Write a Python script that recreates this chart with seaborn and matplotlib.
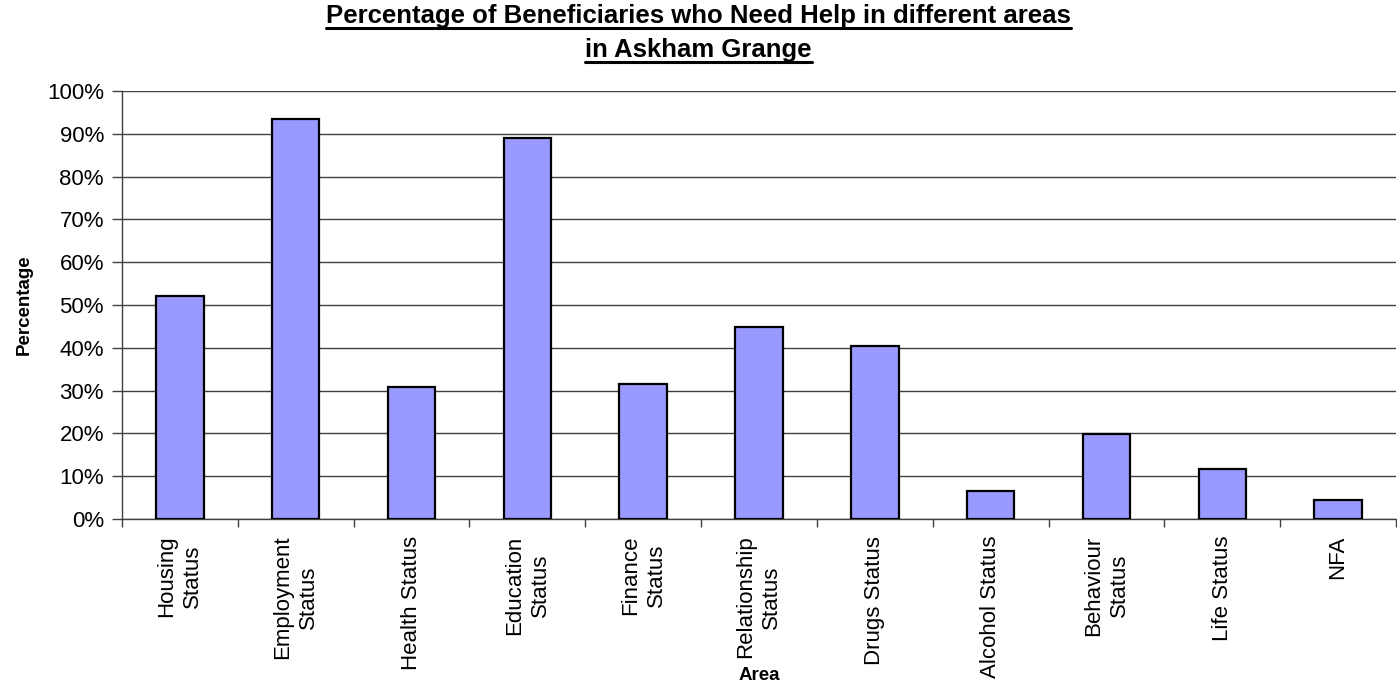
import matplotlib
matplotlib.use("Agg")
import matplotlib.pyplot as plt
import seaborn as sns
import pandas as pd
from matplotlib.ticker import FixedLocator, PercentFormatter
from matplotlib import font_manager

categories = ["Housing\nStatus", "Employment\nStatus", "Health Status", "Education\nStatus",
              "Finance\nStatus", "Relationship\nStatus", "Drugs Status", "Alcohol Status",
              "Behaviour\nStatus", "Life Status", "NFA"]
values = [52.1, 93.4, 30.8, 89.0, 31.5, 44.9, 40.4, 6.6, 19.9, 11.7, 4.4]

title_lines = ["Percentage of Beneficiaries who Need Help in different areas",
               "in Askham Grange"]

sns.set_theme(style="white")
avail = {f.name for f in font_manager.fontManager.ttflist}
base = "Liberation Sans" if "Liberation Sans" in avail else "DejaVu Sans"
plt.rcParams['font.family'] = [base, 'DejaVu Sans']
for k in ["text.color", "axes.labelcolor", "xtick.color", "ytick.color"]:
    plt.rcParams[k] = "black"

df = pd.DataFrame({"Area": categories, "Percentage": values})

W, H = 1397, 687
fig = plt.figure(figsize=(W / 100, H / 100), dpi=100)
ax = fig.add_axes([122 / W, 1 - 519 / H, 1 - 122 / W - 1 / W, (519 - 91) / H])

sns.barplot(data=df, x="Area", y="Percentage", color="#9999FF", width=0.41,
            edgecolor="black", linewidth=1.6, saturation=1, ax=ax, zorder=3)

ax.set_ylim(0, 100)
ax.set_xlim(-0.5, len(categories) - 0.5)
ax.yaxis.set_major_locator(FixedLocator(range(0, 101, 10)))
ax.yaxis.set_major_formatter(PercentFormatter(decimals=0))
ax.grid(axis="y", color="#404040", linewidth=1, zorder=0)
ax.set_axisbelow(True)

for s in ["top", "right"]:
    ax.spines[s].set_visible(False)
for s in ["left", "bottom"]:
    ax.spines[s].set_color("#404040")
    ax.spines[s].set_linewidth(1)

ax.tick_params(axis="y", which="major", direction="out", length=7, width=1, color="#404040",
               labelsize=16, pad=6, left=True, labelcolor="black")
ax.set_xticks(range(len(categories)))
ax.set_xticklabels(categories, rotation=90, fontsize=16, ha="center", va="top",
                   multialignment="center", linespacing=1.3)
ax.tick_params(axis="x", which="major", length=0, pad=12, labelcolor="black")
ax.set_xticks([i - 0.5 for i in range(len(categories) + 1)], minor=True)
ax.tick_params(axis="x", which="minor", direction="out", length=6, width=1, color="#404040",
               bottom=True)

ax.set_ylabel("Percentage", fontsize=13.5, fontweight="bold", va="center")
ax.yaxis.set_label_coords((24 - 122) / 1275, 0.5)
ax.set_xlabel("Area", fontsize=13.5, fontweight="bold", va="center")
ax.xaxis.set_label_coords(0.5, (519 - 676) / 428)

fig.canvas.draw()
renderer = fig.canvas.get_renderer()
baselines = [23, 57]
for ln, by in zip(title_lines, baselines):
    t = fig.text(0.5, 1 - by / H, ln, ha="center", va="baseline", fontsize=18.5,
                 fontweight="bold", color="black")
    bb = t.get_window_extent(renderer)
    yl = H - (by + 5)
    fig.add_artist(plt.Line2D([bb.x0 / W, bb.x1 / W], [yl / H, yl / H],
                              transform=fig.transFigure, color="black", linewidth=2.2))

fig.savefig("out.png", dpi=100)
